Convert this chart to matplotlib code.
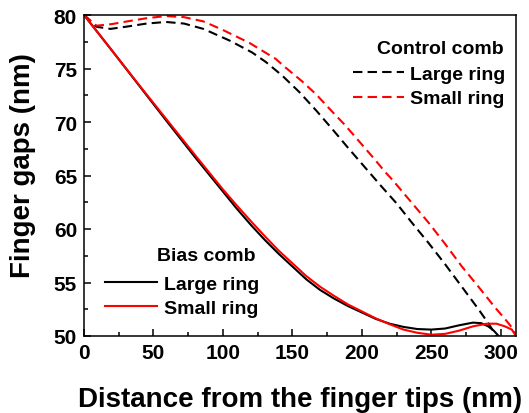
import numpy as np
import matplotlib
matplotlib.use("Agg")
import matplotlib.pyplot as plt
from matplotlib.ticker import MultipleLocator

# Bias comb (solid lines)
bias_large_x = np.array([0, 20, 40, 60, 80, 100, 110, 120, 130, 140, 150, 160, 170, 180, 190,
                         200, 210, 220, 230, 240, 250, 260, 270, 280, 286, 291, 295, 298.5])
bias_large_y = np.array([80, 76.7, 73.35, 70.0, 66.7, 63.5, 61.9, 60.4, 59.0, 57.7, 56.5, 55.3, 54.3, 53.5, 52.8,
                         52.2, 51.6, 51.15, 50.85, 50.65, 50.6, 50.7, 51.0, 51.25, 51.2, 50.9, 50.5, 50.0])

bias_small_x = np.array([0, 20, 40, 60, 80, 100, 110, 120, 130, 140, 150, 160, 170, 180, 190,
                         200, 210, 220, 230, 240, 250, 260, 270, 280, 290, 297, 303, 308, 311])
bias_small_y = np.array([80, 76.7, 73.4, 70.15, 66.9, 63.7, 62.2, 60.75, 59.35, 58.0, 56.8, 55.6, 54.6, 53.75, 52.95,
                         52.3, 51.65, 51.1, 50.6, 50.3, 50.12, 50.2, 50.5, 50.9, 51.15, 51.15, 50.9, 50.6, 50.0])

# Control comb (dashed lines)
ctrl_large_x = np.array([0, 9, 19, 30, 45, 59, 72, 86, 105, 121, 131, 143, 155, 167, 179, 190,
                         202, 214, 225, 236, 248, 260, 272, 284, 291, 297])
ctrl_large_y = np.array([80, 78.9, 78.7, 78.9, 79.2, 79.35, 79.2, 78.7, 77.6, 76.5, 75.6, 74.3, 72.8, 71.1, 69.3, 67.6,
                         65.8, 64.0, 62.4, 60.6, 58.7, 56.7, 54.6, 52.5, 51.2, 50.0])

ctrl_small_x = np.array([0, 9, 20, 31, 45, 59, 72, 86, 100, 119, 138, 145, 157, 167, 177, 188,
                         198, 208, 217, 222, 235, 248, 260, 272, 284, 296, 303, 308, 311])
ctrl_small_y = np.array([80, 79.0, 79.15, 79.4, 79.7, 79.9, 79.8, 79.4, 78.6, 77.4, 75.9, 75.1, 73.8, 72.6, 71.2, 69.7,
                         68.2, 66.7, 65.3, 64.6, 62.6, 60.6, 58.6, 56.5, 54.6, 52.65, 51.6, 50.8, 50.0])

plt.rcParams['font.family'] = ['Liberation Sans', 'DejaVu Sans']
plt.rcParams['font.weight'] = 'bold'

fig = plt.figure(figsize=(5.29, 4.14), dpi=100)
ax = fig.add_axes([84 / 529, 77 / 414, 432 / 529, 321 / 414])

lw = 1.5
dash = (4.5, 2.5)
l1, = ax.plot(ctrl_large_x, ctrl_large_y, color='black', lw=lw, dashes=dash)
l2, = ax.plot(ctrl_small_x, ctrl_small_y, color='#ff0000', lw=lw, dashes=dash)
l3, = ax.plot(bias_large_x, bias_large_y, color='black', lw=lw)
l4, = ax.plot(bias_small_x, bias_small_y, color='#ff0000', lw=lw)

ax.set_xlim(0, 311)
ax.set_ylim(50, 80)
ax.xaxis.set_major_locator(MultipleLocator(50))
ax.xaxis.set_minor_locator(MultipleLocator(25))
ax.yaxis.set_major_locator(MultipleLocator(5))
ax.yaxis.set_minor_locator(MultipleLocator(2.5))
ax.tick_params(which='both', direction='in', top=False, right=False, width=1.1)
ax.tick_params(which='major', length=5, labelsize=15, pad=5)
ax.tick_params(which='minor', length=3)
for lab in ax.get_xticklabels() + ax.get_yticklabels():
    lab.set_fontweight('bold')
for s in ax.spines.values():
    s.set_linewidth(1.1)

ax.set_xlabel('Distance from the finger tips (nm)', fontsize=20, fontweight='bold', labelpad=17)
ax.set_ylabel('Finger gaps (nm)', fontsize=20, fontweight='bold')
ax.yaxis.set_label_coords(-0.11, 0.533)

leg_kw = dict(frameon=False, fontsize=14, handlelength=2.65, labelspacing=0.35,
              borderpad=0, borderaxespad=0)
leg1 = ax.legend([l1, l2], ['Large ring', 'Small ring'], loc='upper right',
                 bbox_to_anchor=(0.975, 0.843), handletextpad=0.3, **leg_kw)
ax.add_artist(leg1)
ax.legend([l3, l4], ['Large ring', 'Small ring'], loc='upper left',
          bbox_to_anchor=(0.049, 0.19), handletextpad=0.4, **leg_kw)

ax.text(0.972, 0.897, 'Control comb', transform=ax.transAxes, fontsize=14,
        fontweight='bold', ha='right', va='center')
ax.text(0.169, 0.252, 'Bias comb', transform=ax.transAxes, fontsize=14,
        fontweight='bold', ha='left', va='center')

fig.savefig('out.png', dpi=100)
